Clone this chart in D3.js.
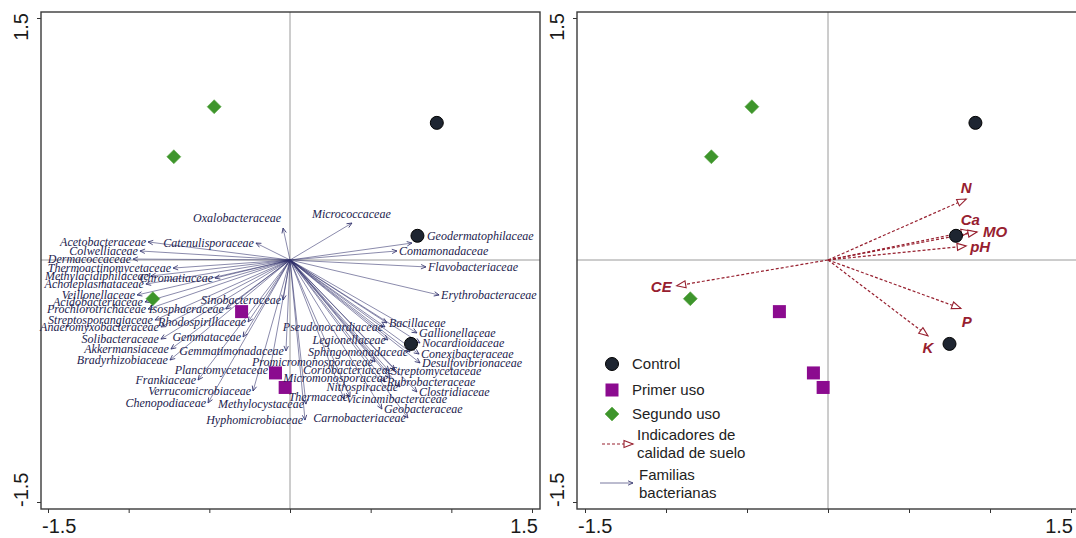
<!DOCTYPE html>
<html>
<head>
<meta charset="utf-8">
<script src="https://cdn.jsdelivr.net/npm/d3@7"></script>
<style>
  body { margin: 0; background: #fff; }
  svg { display: block; }
</style>
</head>
<body>
<div id="chart"></div>
<script>
// muestras (mismas coordenadas en los dos paneles)
var controlX = [0.91, 0.79, 0.75],
    controlY = [0.85, 0.15, -0.52];
var primerX = [-0.30, -0.09, -0.03],
    primerY = [-0.32, -0.70, -0.79];
var segundoX = [-0.47, -0.72, -0.85],
    segundoY = [0.95, 0.64, -0.24];

// familias bacterianas (puntas de flecha)
var familias = ["Acetobacteraceae", "Catenulisporaceae", "Colwelliaceae", "Dermacoccaceae",
  "Thermoactinomycetaceae", "Methylacidiphilaceae", "Chromatiaceae", "Acholeplasmataceae",
  "Veillonellaceae", "Acidobacteriaceae", "Sinobacteraceae", "Prochlorotrichaceae",
  "Isosphaeraceae", "Streptosporangiaceae", "Rhodospirillaceae", "Anaeromyxobacteraceae",
  "Solibacteraceae", "Gemmataceae", "Akkermansiaceae", "Gemmatimonadaceae",
  "Bradyrhizobiaceae", "Planctomycetaceae", "Frankiaceae", "Verrucomicrobiaceae",
  "Chenopodiaceae", "Methylocystaceae", "Hyphomicrobiaceae", "Oxalobacteraceae",
  "Micrococcaceae", "Geodermatophilaceae", "Comamonadaceae", "Flavobacteriaceae",
  "Erythrobacteraceae", "Pseudonocardiaceae", "Legionellaceae", "Sphingomonadaceae",
  "Promicromonosporaceae", "Coriobacteriaceae", "Micromonosporaceae", "Nitrospiraceae",
  "Thermaceae", "Carnobacteriaceae", "Bacillaceae", "Gallionellaceae", "Nocardioidaceae",
  "Conexibacteraceae", "Desulfovibrionaceae", "Streptomycetaceae", "Rubrobacteraceae",
  "Clostridiaceae", "Vicinamibacteraceae", "Geobacteraceae"];
var famX = [-0.880, -0.211, -0.930, -0.973, -0.725, -0.862, -0.465, -0.893,
  -0.948, -0.899, -0.043, -0.880, -0.397, -0.837, -0.260, -0.800,
  -0.800, -0.291, -0.738, -0.025, -0.744, -0.124, -0.570, -0.229,
  -0.508, 0.099, 0.093, -0.043, 0.384, 0.756, 0.663, 0.843,
  0.924, 0.589, 0.607, 0.744, 0.527, 0.651, 0.620, 0.682,
  0.372, 0.731, 0.601, 0.787, 0.806, 0.800, 0.806, 0.614, 0.589,
  0.787, 0.335, 0.570];
var famY = [0.112, 0.105, 0.056, 0.006, -0.050, -0.099, -0.112, -0.149,
  -0.217, -0.260, -0.248, -0.304, -0.304, -0.372, -0.384, -0.415,
  -0.490, -0.477, -0.552, -0.564, -0.620, -0.682, -0.744, -0.812,
  -0.886, -0.893, -0.992, 0.198, 0.229, 0.105, 0.056, -0.043,
  -0.217, -0.415, -0.496, -0.570, -0.632, -0.682, -0.731, -0.787,
  -0.849, -0.979, -0.390, -0.452, -0.514, -0.583, -0.638, -0.688, -0.756,
  -0.818, -0.862, -0.924];

// indicadores de calidad de suelo
var indicadores = ["N", "Ca", "MO", "pH", "P", "K", "CE"];
var indX = [0.853, 0.878, 0.920, 0.853, 0.820, 0.617, -0.934];
var indY = [0.378, 0.180, 0.174, 0.087, -0.300, -0.470, -0.160];

var tickVals = [-1.5, -1, -0.5, 0, 0.5, 1, 1.5];
var tickLabels = ["-1.5", "1.5"];

var leyenda = ["Control", "Primer uso", "Segundo uso"];

// ---- layout ----
var width = 1076, height = 538;
var panels = [
  { left: 41, right: 540, top: 12, bottom: 509, x0: 48, x1: 532 },
  { left: 577, right: 1079, top: 12, bottom: 509, x0: 585, x1: 1071 }
];
var yTop = 18, yBot = 502;

// etiquetas de familias que van a la derecha de la flecha
var etiquetaDerecha = ["Micrococcaceae", "Geodermatophilaceae", "Comamonadaceae", "Flavobacteriaceae",
  "Erythrobacteraceae", "Bacillaceae", "Gallionellaceae", "Nocardioidaceae", "Conexibacteraceae",
  "Desulfovibrionaceae", "Streptomycetaceae", "Rubrobacteraceae", "Clostridiaceae",
  "Vicinamibacteraceae", "Geobacteraceae"];
var ajuste = {
  "Oxalobacteraceae": [0, -10],
  "Micrococcaceae": [-42, -9],
  "Geodermatophilaceae": [13, -7]
};
var ajusteInd = {
  "N": [0, -11, "middle"], "Ca": [0, -11, "middle"], "MO": [6, 0, "start"],
  "pH": [4, 1, "start"], "P": [6, 13, "middle"], "K": [0, 12, "middle"], "CE": [-5, 1, "end"]
};

var famColor = "#2e2e6a", soilColor = "#97202f";

var svg = d3.select("#chart").append("svg")
    .attr("width", width)
    .attr("height", height);

var defs = svg.append("defs");
defs.append("marker")
    .attr("id", "headFam")
    .attr("viewBox", "-1 -4 8 8")
    .attr("refX", 5).attr("refY", 0)
    .attr("markerWidth", 8).attr("markerHeight", 8)
    .attr("markerUnits", "userSpaceOnUse")
    .attr("orient", "auto")
    .append("path")
    .attr("d", "M0,-2.2L5,0L0,2.2")
    .attr("fill", "none")
    .attr("stroke", famColor)
    .attr("stroke-width", 0.8);
defs.append("marker")
    .attr("id", "headSoil")
    .attr("viewBox", "-1 -5 12 10")
    .attr("refX", 9).attr("refY", 0)
    .attr("markerWidth", 12).attr("markerHeight", 10)
    .attr("markerUnits", "userSpaceOnUse")
    .attr("orient", "auto")
    .append("path")
    .attr("d", "M0,-3.5L9,0L0,3.5Z")
    .attr("fill", "#fff")
    .attr("stroke", soilColor)
    .attr("stroke-width", 1.1);

function drawFrame(p) {
  var x = d3.scaleLinear().domain([-1.5, 1.5]).range([p.x0, p.x1]);
  var y = d3.scaleLinear().domain([-1.5, 1.5]).range([yBot, yTop]);
  var g = svg.append("g");

  // ejes cero
  g.append("line")
      .attr("x1", p.left).attr("x2", p.right)
      .attr("y1", y(0)).attr("y2", y(0))
      .attr("stroke", "#9a9a9a").attr("stroke-width", 1);
  g.append("line")
      .attr("x1", x(0)).attr("x2", x(0))
      .attr("y1", p.top).attr("y2", p.bottom)
      .attr("stroke", "#9a9a9a").attr("stroke-width", 1);

  // ticks
  var ax = g.append("g")
      .attr("transform", "translate(0," + p.bottom + ")")
      .call(d3.axisBottom(x).tickValues(tickVals).tickFormat("").tickSize(4));
  var ay = g.append("g")
      .attr("transform", "translate(" + p.left + ",0)")
      .call(d3.axisLeft(y).tickValues([-1.5, 1.5]).tickFormat("").tickSize(4));
  ax.select(".domain").remove();
  ay.select(".domain").remove();
  g.selectAll(".tick line").attr("stroke", "#333");

  // marco
  g.append("rect")
      .attr("x", p.left).attr("y", p.top)
      .attr("width", p.right - p.left).attr("height", p.bottom - p.top)
      .attr("fill", "none").attr("stroke", "#3a3a3a").attr("stroke-width", 1.4);

  // etiquetas de ejes, alineadas con el marco
  g.append("text").text(tickLabels[0])
      .attr("x", p.left + 1).attr("y", 533)
      .attr("text-anchor", "start");
  g.append("text").text(tickLabels[1])
      .attr("x", Math.min(p.right - 2, width - 3)).attr("y", 533)
      .attr("text-anchor", "end");
  g.append("text").text(tickLabels[1])
      .attr("transform", "translate(" + (p.left - 13) + "," + (p.top + 1) + ") rotate(-90)")
      .attr("text-anchor", "end");
  g.append("text").text(tickLabels[0])
      .attr("transform", "translate(" + (p.left - 13) + "," + (p.bottom - 2) + ") rotate(-90)")
      .attr("text-anchor", "start");
  g.selectAll("text")
      .attr("font-family", "Liberation Sans, Arial, sans-serif")
      .attr("font-size", 20)
      .attr("fill", "#1a1a1a");

  return { g: g, x: x, y: y };
}

function drawSamples(g, x, y) {
  g.selectAll(".ctrl").data(d3.range(controlX.length)).enter()
    .append("circle")
      .attr("cx", i => x(controlX[i]))
      .attr("cy", i => y(controlY[i]))
      .attr("r", 6.5)
      .attr("fill", "#1e2531")
      .attr("stroke", "#000")
      .attr("stroke-width", 1);
  g.selectAll(".prim").data(d3.range(primerX.length)).enter()
    .append("rect")
      .attr("x", i => x(primerX[i]) - 6.5)
      .attr("y", i => y(primerY[i]) - 6.5)
      .attr("width", 13).attr("height", 13)
      .attr("fill", "#8b0b8f");
  g.selectAll(".seg").data(d3.range(segundoX.length)).enter()
    .append("path")
      .attr("d", "M0,-7L7,0L0,7L-7,0Z")
      .attr("transform", i => "translate(" + x(segundoX[i]) + "," + y(segundoY[i]) + ")")
      .attr("fill", "#3e952c")
      .attr("stroke", "#5aa845")
      .attr("stroke-width", 0.6);
}

// ---- panel izquierdo: familias ----
var L = drawFrame(panels[0]);
var fams = d3.range(familias.length);

L.g.selectAll(".fam").data(fams).enter()
  .append("line")
    .attr("x1", L.x(0)).attr("y1", L.y(0))
    .attr("x2", i => L.x(famX[i]))
    .attr("y2", i => L.y(famY[i]))
    .attr("stroke", famColor)
    .attr("stroke-opacity", 0.8)
    .attr("stroke-width", 0.7)
    .attr("marker-end", "url(#headFam)");

drawSamples(L.g, L.x, L.y);

L.g.selectAll(".famlab").data(fams).enter()
  .append("text")
    .text(i => familias[i])
    .attr("x", function (i) {
      var right = etiquetaDerecha.indexOf(familias[i]) >= 0;
      var dx = ajuste[familias[i]] ? ajuste[familias[i]][0] : 0;
      return L.x(famX[i]) + (right ? 2 : -2) + dx;
    })
    .attr("y", function (i) {
      var dy = ajuste[familias[i]] ? ajuste[familias[i]][1] : 0;
      return L.y(famY[i]) + dy;
    })
    .attr("dy", "0.33em")
    .attr("text-anchor", i => etiquetaDerecha.indexOf(familias[i]) >= 0 ? "start" : "end")
    .attr("font-family", "Liberation Serif, Times New Roman, serif")
    .attr("font-style", "italic")
    .attr("font-size", 12)
    .attr("fill", "#1c1c4e");

// ---- panel derecho: indicadores de suelo ----
var R = drawFrame(panels[1]);
var inds = d3.range(indicadores.length);

R.g.selectAll(".ind").data(inds).enter()
  .append("line")
    .attr("x1", R.x(0)).attr("y1", R.y(0))
    .attr("x2", i => R.x(indX[i]))
    .attr("y2", i => R.y(indY[i]))
    .attr("stroke", soilColor)
    .attr("stroke-width", 1.2)
    .attr("stroke-dasharray", "3,2")
    .attr("marker-end", "url(#headSoil)");

drawSamples(R.g, R.x, R.y);

R.g.selectAll(".indlab").data(inds).enter()
  .append("text")
    .text(i => indicadores[i])
    .attr("x", i => R.x(indX[i]) + ajusteInd[indicadores[i]][0])
    .attr("y", i => R.y(indY[i]) + ajusteInd[indicadores[i]][1])
    .attr("dy", "0.35em")
    .attr("text-anchor", i => ajusteInd[indicadores[i]][2])
    .attr("font-family", "Liberation Sans, Arial, sans-serif")
    .attr("font-weight", "bold")
    .attr("font-style", "italic")
    .attr("font-size", 15)
    .attr("fill", soilColor);

// ---- leyenda ----
var lg = svg.append("g").attr("transform", "translate(612,364)");
var lgFont = "Liberation Sans, Arial, sans-serif";
lg.append("circle").attr("cx", 0).attr("cy", 0).attr("r", 6.5)
    .attr("fill", "#1e2531").attr("stroke", "#000");
lg.append("rect").attr("x", -6.5).attr("y", 26 - 6.5).attr("width", 13).attr("height", 13)
    .attr("fill", "#8b0b8f");
lg.append("path").attr("d", "M0,-7L7,0L0,7L-7,0Z").attr("transform", "translate(0,50)")
    .attr("fill", "#3e952c").attr("stroke", "#5aa845").attr("stroke-width", 0.6);
lg.selectAll(".lt").data(leyenda).enter()
  .append("text")
    .text(d => d)
    .attr("x", 20)
    .attr("y", (d, i) => [0, 26, 50][i])
    .attr("dy", "0.35em");
lg.append("line").attr("x1", -10).attr("x2", 21).attr("y1", 80).attr("y2", 80)
    .attr("stroke", soilColor).attr("stroke-width", 1.1).attr("stroke-dasharray", "3,2")
    .attr("marker-end", "url(#headSoil)");
lg.append("text").text("Indicadores de").attr("x", 25).attr("y", 71).attr("dy", "0.35em");
lg.append("text").text("calidad de suelo").attr("x", 25).attr("y", 89).attr("dy", "0.35em");
lg.append("line").attr("x1", -12).attr("x2", 21).attr("y1", 119).attr("y2", 119)
    .attr("stroke", "#6a6a94").attr("stroke-width", 0.9)
    .attr("marker-end", "url(#headFam)");
lg.append("text").text("Familias").attr("x", 27).attr("y", 111).attr("dy", "0.35em");
lg.append("text").text("bacterianas").attr("x", 27).attr("y", 129).attr("dy", "0.35em");
lg.selectAll("text")
    .attr("font-family", lgFont)
    .attr("font-size", 15)
    .attr("fill", "#222");
</script>
</body>
</html>
